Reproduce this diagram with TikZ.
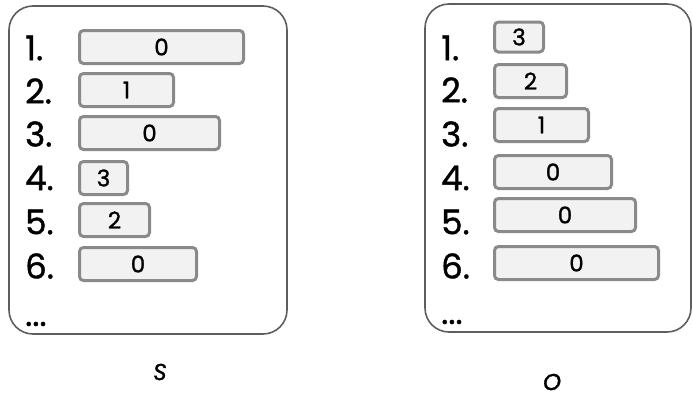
\documentclass[tikz,border=0pt]{standalone}
\usepackage{fontspec}
\setmainfont{Poppins}[UprightFeatures={FakeBold=1.2}, ItalicFeatures={FakeBold=1.2}]
\usepackage{xcolor}
\usepackage{tikz}
\usetikzlibrary{positioning}

\definecolor{framegray}{HTML}{5E5E5E}
\definecolor{cellgray}{HTML}{8A8A8A}
\definecolor{cellfill}{HTML}{F2F2F2}

\tikzset{
    frame/.style={draw=framegray, line width=1.6pt, rounded corners=24pt},
    cell/.style={draw=cellgray, fill=cellfill, line width=3pt, rounded corners=4pt,
        anchor=west, minimum height=33pt, inner sep=0pt, font=\fontsize{23}{23}\selectfont},
    idx/.style={anchor=west, inner sep=0pt, font=\fontsize{34}{34}\selectfont},
    tag/.style={inner sep=0pt, font=\fontsize{23}{23}\selectfont\itshape}
}

\begin{document}
\begin{tikzpicture}[x=1pt,y=-1pt]
        \useasboundingbox (0,0) rectangle (693,399);
        % 绘制外框
        \draw[frame] (9,6) rectangle (287,334);
        \draw[frame] (425,4) rectangle (691,332);
        % 左侧序号与格子
        \node[idx] (sl1) at (25,48) {1.};
        \node[idx] (sl2) at (25,91) {2.};
        \node[idx] (sl3) at (25,134) {3.};
        \node[idx] (sl4) at (25,178) {4.};
        \node[idx] (sl5) at (25,222) {5.};
        \node[idx] (sl6) at (25,266) {6.};
        \node[idx] (sdots) at (25,324) {...};
        \node[cell, minimum width=164pt] (s1) at (78,47) {0};
        \node[cell, minimum width=94pt] (s2) at (78,90) {1};
        \node[cell, minimum width=140pt] (s3) at (78,133) {0};
        \node[cell, minimum width=48pt] (s4) at (78,178) {3};
        \node[cell, minimum width=70pt] (s5) at (78,220) {2};
        \node[cell, minimum width=117pt] (s6) at (78,264) {0};
        % 右侧序号与格子
        \node[idx] (ol1) at (441,48) {1.};
        \node[idx] (ol2) at (441,90) {2.};
        \node[idx] (ol3) at (441,134) {3.};
        \node[idx] (ol4) at (441,178) {4.};
        \node[idx] (ol5) at (441,222) {5.};
        \node[idx] (ol6) at (441,266) {6.};
        \node[idx] (odots) at (441,322) {...};
        \node[cell, minimum width=49pt, minimum height=30pt] (o1) at (493,37) {3};
        \node[cell, minimum width=72pt] (o2) at (493,81) {2};
        \node[cell, minimum width=94pt] (o3) at (493,125) {1};
        \node[cell, minimum width=117pt] (o4) at (493,172) {0};
        \node[cell, minimum width=141pt] (o5) at (493,215) {0};
        \node[cell, minimum width=164pt] (o6) at (493,263) {0};
        % 标记名称
        \node[tag] (sname) at (160,372) {S};
        \node[tag] (oname) at (552,382) {O};
    \end{tikzpicture}
\end{document}
